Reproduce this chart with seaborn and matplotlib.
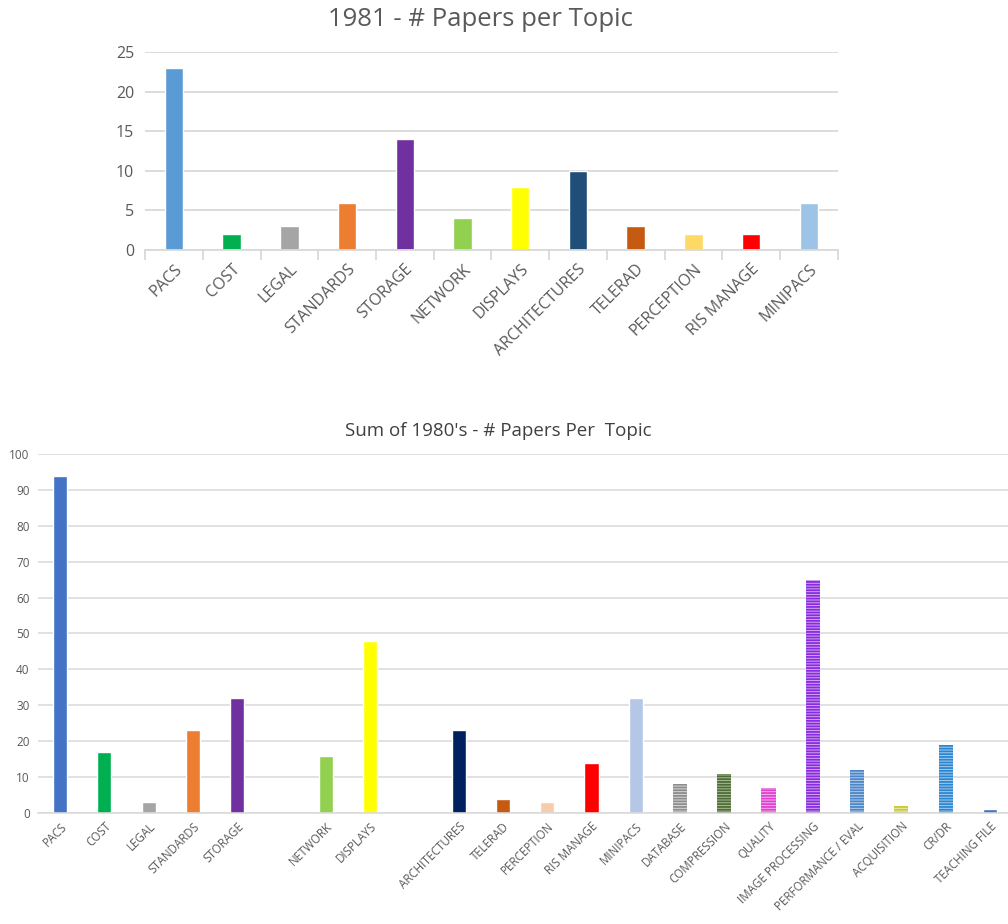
import matplotlib
matplotlib.use("Agg")
import matplotlib.pyplot as plt
import numpy as np
import pandas as pd
import seaborn as sns

# 1981 chart data
topics_1981 = ["PACS", "COST", "LEGAL", "STANDARDS", "STORAGE", "NETWORK", "DISPLAYS",
               "ARCHITECTURES", "TELERAD", "PERCEPTION", "RIS MANAGE", "MINIPACS"]
papers_1981 = [23, 2, 3, 6, 14, 4, 8, 10, 3, 2, 2, 6]
colors_1981 = ["#5B9BD5", "#00B050", "#A5A5A5", "#ED7D31", "#7030A0", "#92D050", "#FFFF00",
               "#1F4E79", "#C55A11", "#FFD966", "#FF0000", "#9DC3E6"]

# 1980's sum chart data (two empty slots on the category axis)
axis_order_80s = ["PACS", "COST", "LEGAL", "STANDARDS", "STORAGE", " ", "NETWORK", "DISPLAYS", "  ",
                  "ARCHITECTURES", "TELERAD", "PERCEPTION", "RIS MANAGE", "MINIPACS", "DATABASE",
                  "COMPRESSION", "QUALITY", "IMAGE PROCESSING", "PERFORMANCE / EVAL",
                  "ACQUISITION", "CR/DR", "TEACHING FILE"]
topics_80s = ["PACS", "COST", "LEGAL", "STANDARDS", "STORAGE", "NETWORK", "DISPLAYS",
              "ARCHITECTURES", "TELERAD", "PERCEPTION", "RIS MANAGE", "MINIPACS", "DATABASE",
              "COMPRESSION", "QUALITY", "IMAGE PROCESSING", "PERFORMANCE / EVAL",
              "ACQUISITION", "CR/DR", "TEACHING FILE"]
papers_80s = [94, 17, 3, 23, 32, 16, 48, 23, 4, 3, 14, 32, 8, 11, 7, 65, 12, 2, 19, 1]
colors_80s = ["#4472C4", "#00B050", "#A5A5A5", "#ED7D31", "#7030A0", "#92D050", "#FFFF00",
              "#002060", "#C55A11", "#F8CBAD", "#FF0000", "#B4C7E7", "#8C8C8C",
              "#4E6B35", "#E040D0", "#8A2BE2", "#4A86C8", "#C8C83A", "#2A86D0", "#4472C4"]
# striped bars: light fill behind the coloured stripes
striped_80s = {"DATABASE": "#D9D9D9", "COMPRESSION": "#A9BF99", "QUALITY": "#F3B3EC",
               "IMAGE PROCESSING": "#CFA8F0", "PERFORMANCE / EVAL": "#B7CDE8",
               "ACQUISITION": "#EEEEA8", "CR/DR": "#A8CCEE"}

sns.set_style("white")
plt.rcParams['font.family'] = ['Open Sans', 'DejaVu Sans']
plt.rcParams['hatch.linewidth'] = 1.3
grid_c = "#D9D9D9"
text_c = "#595959"

fig = plt.figure(figsize=(10.08, 9.24), dpi=100)

# ---- top chart ----
ax1 = fig.add_axes([0.144, 0.7294, 0.687, 0.2143])
df1 = pd.DataFrame({"topic": topics_1981, "papers": papers_1981})
sns.barplot(data=df1, x="topic", y="papers", hue="topic", order=topics_1981,
            palette=dict(zip(topics_1981, colors_1981)), width=0.32, legend=False,
            saturation=1, ax=ax1)
ax1.set_ylim(0, 25)
ax1.set_xlim(-0.5, len(topics_1981) - 0.5)
ax1.set_yticks(range(0, 26, 5))
ax1.yaxis.grid(True, color=grid_c, lw=1.3)
ax1.set_axisbelow(True)
for s in ["top", "right", "left"]:
    ax1.spines[s].set_visible(False)
ax1.spines["bottom"].set_color(grid_c)
ax1.spines["bottom"].set_linewidth(1.3)
ax1.set_xticks(range(len(topics_1981)))
ax1.set_xticks(np.arange(-0.5, len(topics_1981)), minor=True)
ax1.tick_params(axis="x", which="minor", bottom=True, length=7, color=grid_c, width=1.3)
ax1.tick_params(axis="x", which="major", length=0, pad=8)
ax1.tick_params(axis="y", length=0, labelsize=11.5, labelcolor=text_c, pad=8)
ax1.set_xticklabels(topics_1981, rotation=45, ha="right", rotation_mode="anchor",
                    fontsize=11.5, color=text_c)
ax1.set_xlabel("")
ax1.set_ylabel("")
fig.text(0.4764, 0.979, "1981 - # Papers per Topic", ha="center", va="center",
         fontsize=18.5, color=text_c)

# ---- bottom chart ----
ax2 = fig.add_axes([0.0377, 0.1201, 0.9663, 0.3886])
df2 = pd.DataFrame({"topic": topics_80s, "papers": papers_80s})
sns.barplot(data=df2, x="topic", y="papers", hue="topic", order=axis_order_80s,
            hue_order=topics_80s, palette=dict(zip(topics_80s, colors_80s)),
            width=0.32, legend=False, saturation=1, dodge=False, ax=ax2)
for p in ax2.patches:
    idx = int(round(p.get_x() + p.get_width() / 2))
    if idx < 0 or idx >= len(axis_order_80s):
        continue
    name = axis_order_80s[idx]
    if name in striped_80s:
        p.set_edgecolor(colors_80s[topics_80s.index(name)])
        p.set_facecolor(striped_80s[name])
        p.set_hatch("------")
        p.set_linewidth(0)
ax2.set_ylim(0, 100)
ax2.set_xlim(-0.5, len(axis_order_80s) - 0.5)
ax2.set_yticks(range(0, 101, 10))
ax2.yaxis.grid(True, color=grid_c, lw=1.1)
ax2.set_axisbelow(True)
for s in ["top", "right", "left"]:
    ax2.spines[s].set_visible(False)
ax2.spines["bottom"].set_color(grid_c)
ax2.spines["bottom"].set_linewidth(1.1)
ax2.tick_params(axis="x", length=0, pad=5)
ax2.tick_params(axis="y", length=0, labelsize=8.5, labelcolor=text_c, pad=6)
ax2.set_xticks(range(len(axis_order_80s)))
ax2.set_xticklabels(axis_order_80s, rotation=45, ha="right", rotation_mode="anchor",
                    fontsize=8.3, color=text_c)
ax2.set_xlabel("")
ax2.set_ylabel("")
fig.text(0.4945, 0.5335, "Sum of 1980's - # Papers Per  Topic", ha="center", va="center",
         fontsize=13.5, color="#404040")

fig.savefig("out.png", dpi=100)
